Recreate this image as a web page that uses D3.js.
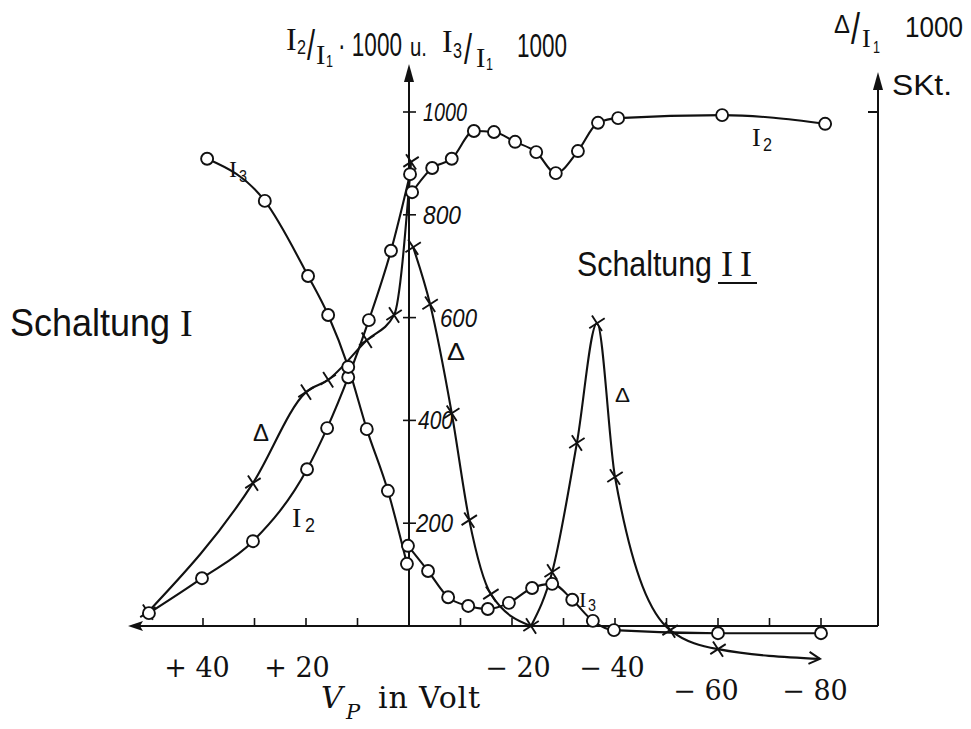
<!DOCTYPE html>
<html>
<head>
<meta charset="utf-8">
<script src="https://cdn.jsdelivr.net/npm/d3@7"></script>
<style>
  html, body { margin: 0; padding: 0; background: #fff; }
  svg { display: block; }
</style>
</head>
<body>
<svg id="chart" width="971" height="729"></svg>
<script>
// Plate voltage V_P in volt (positive to the left) and ratios ×1000.
// Schaltung I
const vI2a = [50.5, 40.2, 30.3, 19.8, 15.9, 11.8, 7.8, 3.5, -0.2];
const i2a  = [25, 93, 165, 305, 385, 484, 595, 730, 879];
const vI3a = [39.2, 28.0, 19.6, 15.7, 11.8, 8.2, 4.1, 0.4];
const i3a  = [909, 827, 681, 605, 504, 383, 263, 121];
const vDa  = [50.7, 30.3, 20.0, 15.7, 8.2, 2.9, -0.4];
const da   = [27, 278, 455, 479, 556, 605, 903];
// Schaltung II
const vI2b = [-0.6, -4.5, -8.3, -12.6, -16.5, -20.6, -24.7, -28.5, -32.8, -36.7, -40.6, -60.8, -80.8];
const i2b  = [844, 891, 909, 963, 961, 942, 922, 881, 924, 979, 988, 994, 977];
const vI3b = [0.2, -3.7, -7.6, -11.5, -15.3, -19.4, -23.9, -27.8, -31.7, -35.7, -39.8, -60.0, -80.0];
const i3b  = [156, 107, 56, 39, 33, 45, 74, 82, 51, 10, -8, -14, -14];
const vDb  = [-0.8, -4.1, -8.3, -11.7, -15.9, -23.7, -27.8, -32.6, -36.5, -40.0, -50.7, -60.0, -79.8];
const db   = [737, 626, 414, 206, 62, 0, 105, 356, 589, 290, -8, -45, -64];

// Axis ticks and labels
const xTickValues = [40, 30, 20, 10, -10, -20, -30, -40, -50, -60, -70, -80];
const xTickLabels = [40, 20, -20, -40, -60, -80];
const yTickValues = [200, 400, 600, 800, 1000];

const HAND = "'Liberation Sans','DejaVu Sans',sans-serif";
const ROMAN = "'Liberation Serif','DejaVu Serif',serif";
const PRINT = "'DejaVu Serif','Liberation Serif',serif";
const INK = "#111";

const svg = d3.select("#chart");
const x = d3.scaleLinear().domain([0, -80]).range([409, 821]);
const y = d3.scaleLinear().domain([0, 1000]).range([626, 112]);
const x0 = x(0), y0 = y(0);
const xRight = 878;

const zip = (vs, ys) => vs.map((v, i) => [v, ys[i]]);
const line = d3.line().x(d => x(d[0])).y(d => y(d[1])).curve(d3.curveMonotoneX);

// handwritten-looking text, squeezed horizontally to a given width
function hand(txt, px, py, size, opts = {}) {
  const t = svg.append("text")
    .attr("font-family", opts.roman ? ROMAN : HAND).attr("font-size", size)
    .attr("font-style", opts.italic ? "italic" : null)
    .attr("fill", INK).text(txt);
  let sx = 1;
  if (opts.w) {
    const natural = t.node().getComputedTextLength();
    if (natural > 0) sx = opts.w / natural;
  }
  t.attr("transform", `translate(${px},${py}) scale(${sx},1)`);
  return t;
}

const gAxes = svg.append("g").attr("stroke", INK).attr("fill", "none").attr("stroke-width", 2);

// horizontal axis with left arrow
gAxes.append("line").attr("x1", 134).attr("y1", y0).attr("x2", xRight).attr("y2", y0);
svg.append("path").attr("d", `M128,${y0} L143,${y0 - 5} L140,${y0} L143,${y0 + 5} Z`).attr("fill", INK);
// vertical axis (left, ratio scale)
gAxes.append("line").attr("x1", x0).attr("y1", y0).attr("x2", x0).attr("y2", 78);
svg.append("path").attr("d", `M${x0},64 L${x0 - 5},82 L${x0 + 5},82 Z`).attr("fill", INK);
// vertical axis (right, Δ scale)
gAxes.append("line").attr("x1", xRight).attr("y1", y0).attr("x2", xRight).attr("y2", 86);
svg.append("path").attr("d", `M${xRight},72 L${xRight - 5},90 L${xRight + 5},90 Z`).attr("fill", INK);
gAxes.append("line").attr("x1", xRight - 10).attr("y1", y(1000)).attr("x2", xRight).attr("y2", y(1000));

// x ticks
gAxes.selectAll(".xt").data(xTickValues).join("line")
  .attr("x1", d => x(d)).attr("x2", d => x(d))
  .attr("y1", y0).attr("y2", y0 - 8).attr("stroke-width", 1.6);
// y ticks
gAxes.selectAll(".yt").data(yTickValues).join("line")
  .attr("x1", x0 - 6).attr("x2", x0 + 7)
  .attr("y1", d => y(d)).attr("y2", d => y(d)).attr("stroke-width", 1.6);

// y tick labels (handwritten style)
const yLabelX = {200: 416, 400: 418, 600: 440, 800: 423, 1000: 423};
const yLabelW = {200: 37, 400: 35, 600: 37, 800: 38, 1000: 44};
yTickValues.forEach(v => hand(String(v), yLabelX[v], y(v) + 9, 25, {w: yLabelW[v], italic: true}));

// x tick labels (printed)
const xLabelNudge = {40: -6, 20: -9, "-20": 6, "-40": -3, "-60": -12, "-80": -6};
svg.selectAll(".xl").data(xTickLabels).join("text")
  .attr("x", d => x(d) + xLabelNudge[d]).attr("y", d => d < -50 ? 700 : 677)
  .attr("text-anchor", "middle").attr("font-family", PRINT).attr("font-size", 27)
  .attr("fill", INK).text(d => (d > 0 ? "+ " : "\u2212 ") + Math.abs(d));

// axis title V_P in Volt
svg.append("text").attr("x", 321).attr("y", 708).attr("font-family", PRINT)
  .attr("font-style", "italic").attr("font-size", 30).attr("fill", INK).text("V");
svg.append("text").attr("x", 346).attr("y", 719).attr("font-family", PRINT)
  .attr("font-style", "italic").attr("font-size", 21).attr("fill", INK).text("P");
svg.append("text").attr("x", 378).attr("y", 708).attr("font-family", PRINT)
  .attr("font-size", 30).attr("textLength", 102).attr("fill", INK).text("in Volt");

// curves
const gCurves = svg.append("g").attr("fill", "none").attr("stroke", INK).attr("stroke-width", 2.1);
const I2a = zip(vI2a, i2a), I3a = zip(vI3a, i3a), Da = zip(vDa, da);
const I2b = zip(vI2b, i2b), I3b = zip(vI3b, i3b), Db = zip(vDb, db);
gCurves.append("path").attr("d", line(I2a));
gCurves.append("path").attr("d", line(I3a));
gCurves.append("path").attr("d", line(Da));
gCurves.append("path").attr("d", line(I2b));
gCurves.append("path").attr("d", line(I3b));
// Δ of Schaltung II touches zero with a corner, then runs on into the negative
gCurves.append("path").attr("d", line(Db.slice(0, 6)));
gCurves.append("path").attr("d", line(Db.slice(5)));

// open arrow head at the end of the Δ curve
const last = Db[Db.length - 1], prev = Db[Db.length - 2];
const ang = Math.atan2(y(last[1]) - y(prev[1]), x(last[0]) - x(prev[0])) * 180 / Math.PI;
svg.append("path")
  .attr("d", "M-11,-6 L0,0 L-11,6")
  .attr("transform", `translate(${x(last[0])},${y(last[1])}) rotate(${ang})`)
  .attr("fill", "none").attr("stroke", INK).attr("stroke-width", 2);

// markers: crosses for Δ, open circles for the currents
const crossPath = "M-6.5,-6.5L6.5,6.5M-6.5,6.5L6.5,-6.5";
const gMarks = svg.append("g");
gMarks.selectAll(".cr").data(Da.concat(Db.slice(0, -1))).join("path")
  .attr("d", crossPath).attr("transform", d => `translate(${x(d[0])},${y(d[1])}) rotate(12)`)
  .attr("stroke", INK).attr("stroke-width", 1.9).attr("fill", "none");
gMarks.selectAll(".ci").data(I2a.concat(I3a, I2b, I3b)).join("circle")
  .attr("cx", d => x(d[0])).attr("cy", d => y(d[1])).attr("r", 6)
  .attr("fill", "#fff").attr("stroke", INK).attr("stroke-width", 1.9);

// top-left axis title: I2/I1 · 1000 u. I3/I1 1000
hand("I", 286, 50, 32, {roman: true});
hand("2", 297, 54, 20, {w: 9});
hand("/", 307, 60, 42, {w: 8});
hand("I", 316, 64, 28, {roman: true});
hand("1", 326, 67, 17, {w: 7});
hand("\u00b7 1000", 338, 56, 34, {w: 64});
hand("u.", 410, 56, 26, {w: 17});
hand("I", 442, 52, 32, {roman: true});
hand("3", 453, 58, 22, {w: 9});
hand("/", 464, 64, 42, {w: 8});
hand("I", 476, 67, 28, {roman: true});
hand("1", 486, 70, 17, {w: 7});
hand("1000", 517, 57, 34, {w: 50});
// right axis title: Δ/I1 1000  SKt.
hand("\u0394", 834, 33, 26, {w: 16});
hand("/", 851, 44, 44, {w: 9});
hand("I", 862, 47, 26, {roman: true});
hand("1", 873, 53, 17, {w: 7});
hand("1000", 905, 37, 30, {w: 58});
hand("SKt.", 892, 95, 30, {w: 60});
// circuit names
hand("Schaltung", 10, 336, 38, {w: 160});
hand("I", 180, 336, 38, {roman: true});
hand("Schaltung", 577, 276, 36, {w: 135});
hand("I", 721, 276, 36, {roman: true});
hand("I", 740, 276, 36, {roman: true});
svg.append("line").attr("x1", 718).attr("x2", 757).attr("y1", 283).attr("y2", 283)
  .attr("stroke", INK).attr("stroke-width", 2);
// curve labels
hand("I", 229, 177, 24, {roman: true}); hand("3", 239, 182, 16, {w: 8});
hand("I", 752, 146, 26, {roman: true}); hand("2", 763, 151, 18, {w: 9});
hand("I", 292, 527, 28, {roman: true}); hand("2", 305, 532, 20, {w: 10});
hand("I", 579, 607, 22, {roman: true}); hand("3", 588, 611, 16, {w: 8});
hand("\u0394", 253, 441, 24, {w: 16});
hand("\u0394", 447, 360, 24, {w: 18});
hand("\u0394", 615, 402, 20, {w: 15});
</script>
</body>
</html>
